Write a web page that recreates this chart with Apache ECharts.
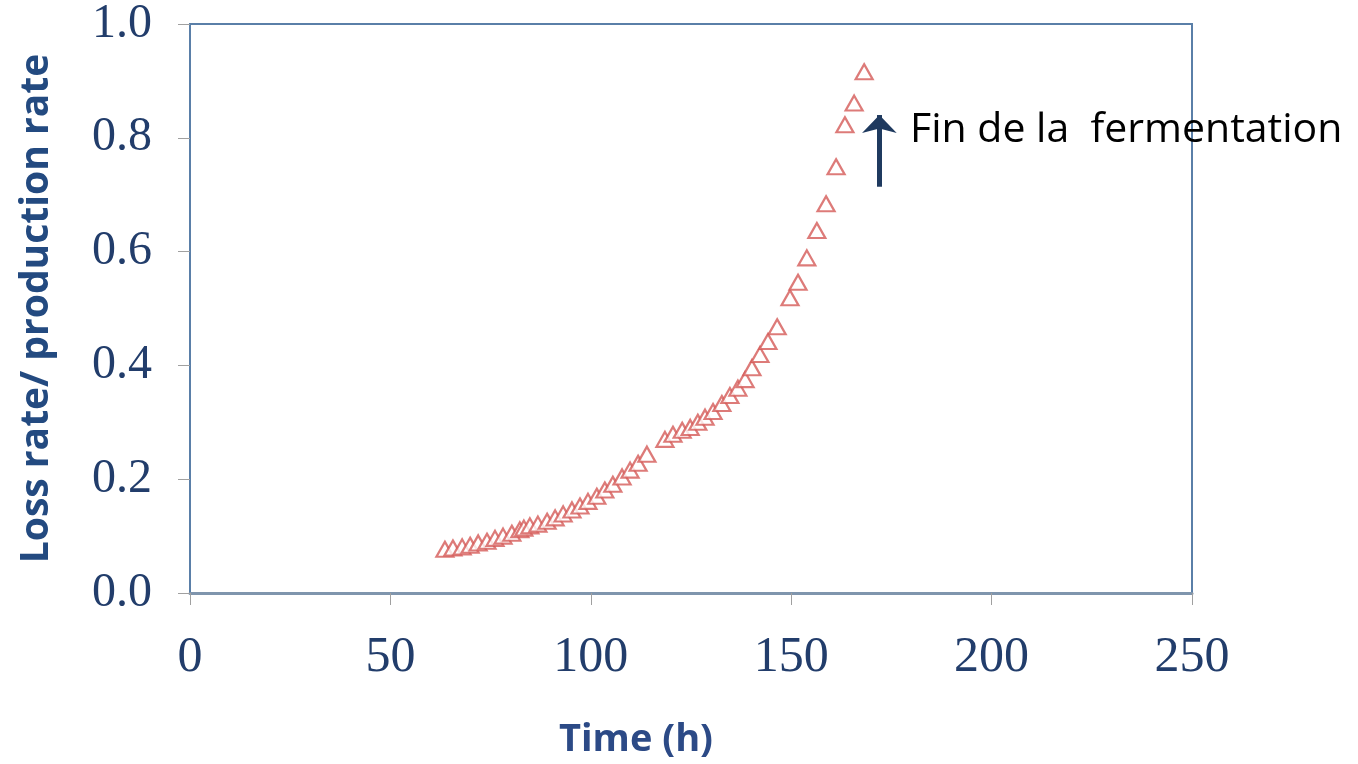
<!DOCTYPE html>
<html>
<head>
<meta charset="utf-8">
<script src="https://cdn.jsdelivr.net/npm/echarts@6/dist/echarts.min.js"></script>
<style>
  html, body { margin: 0; padding: 0; background: #fff; }
  #chart { width: 1358px; height: 764px; }
</style>
</head>
<body>
<div id="chart"></div>
<script>
// time (h) and loss rate / production rate
var timeH = [63.6, 65.6, 67.9, 69.9, 71.9, 74.1, 76.1, 78.1, 80.3, 82.3, 83.3, 84.8, 86.8, 89.1, 91.1, 93.1, 95.3, 97.3, 99.3, 101.5,
    103.5, 105.5, 107.8, 109.8, 111.8, 114.0, 118.5, 120.5, 122.8, 124.8, 126.7, 128.5, 130.5, 132.7, 134.7, 136.7, 138.5, 140.2,
    142.2, 144.2, 146.5, 149.7, 151.7, 153.9, 156.4, 158.7, 161.2, 163.4, 165.7, 168.2];
var ratio = [0.077, 0.079, 0.081, 0.084, 0.088, 0.091, 0.096, 0.100, 0.105, 0.111, 0.114, 0.118, 0.121, 0.126, 0.132, 0.139, 0.146, 0.153, 0.161, 0.170,
    0.181, 0.191, 0.204, 0.216, 0.228, 0.244, 0.270, 0.279, 0.286, 0.291, 0.300, 0.309, 0.319, 0.333, 0.347, 0.360, 0.375, 0.396,
    0.419, 0.442, 0.468, 0.519, 0.546, 0.589, 0.637, 0.684, 0.749, 0.823, 0.861, 0.916];
var xTicks = [0, 50, 100, 150, 200, 250];
var yTicks = [0, 0.2, 0.4, 0.6, 0.8, 1.0];
var arrowFrom = [172, 0.714];
var arrowTo = [172, 0.84];

var points = timeH.map(function (t, i) { return [t, ratio[i]]; });

var chart = echarts.init(document.getElementById('chart'), null, { renderer: 'canvas' });

var option = {
    animation: false,
    grid: {
        left: 190,
        right: 166,
        top: 24,
        bottom: 170,
        show: true,
        borderColor: '#5a7fa8',
        borderWidth: 2
    },
    xAxis: {
        type: 'value',
        min: xTicks[0],
        max: xTicks[xTicks.length - 1],
        interval: 50,
        name: 'Time (h)',
        nameLocation: 'middle',
        nameGap: 128,
        nameTextStyle: {
            fontFamily: 'Open Sans',
            fontWeight: 'bold',
            fontSize: 38,
            color: '#2c4a86',
            padding: [0, 110, 0, 0]
        },
        axisLine: { show: true, lineStyle: { color: '#7f95ad', width: 3 } },
        axisTick: { show: true, length: 12, lineStyle: { color: '#a0a0a0', width: 1 } },
        axisLabel: {
            margin: 40,
            fontFamily: 'Liberation Serif',
            fontSize: 50,
            color: '#223d6b'
        },
        splitLine: { show: false }
    },
    yAxis: {
        type: 'value',
        min: yTicks[0],
        max: yTicks[yTicks.length - 1],
        interval: 0.2,
        name: 'Loss rate/ production rate',
        nameLocation: 'middle',
        nameGap: 134,
        nameTextStyle: {
            fontFamily: 'Open Sans',
            fontWeight: 'bold',
            fontSize: 39,
            color: '#234a80'
        },
        axisLine: { show: true, lineStyle: { color: '#5a7fa8', width: 2 } },
        axisTick: { show: true, length: 12, lineStyle: { color: '#a0a0a0', width: 1 } },
        axisLabel: {
            margin: 38,
            fontFamily: 'Liberation Serif',
            fontSize: 48,
            color: '#223d6b',
            formatter: function (v) { return v.toFixed(1); }
        },
        splitLine: { show: false }
    },
    graphic: [{
        type: 'text',
        x: 910,
        y: 130,
        style: {
            text: 'Fin de la  fermentation',
            fontFamily: 'Open Sans',
            fontSize: 41,
            fill: '#000',
            verticalAlign: 'middle'
        }
    }],
    series: [{
        type: 'scatter',
        data: points,
        symbol: 'triangle',
        symbolSize: [17, 15],
        itemStyle: {
            color: '#ffffff',
            borderColor: '#d45a57',
            borderWidth: 2.2
        },
        markLine: {
            silent: true,
            symbol: ['none', 'arrow'],
            symbolSize: [26, 18],
            label: { show: false },
            lineStyle: { color: '#1f3a5f', width: 5, type: 'solid' },
            data: [[{ coord: arrowFrom }, { coord: arrowTo }]]
        }
    }]
};

chart.setOption(option);
window.addEventListener('resize', chart.resize);
</script>
</body>
</html>
